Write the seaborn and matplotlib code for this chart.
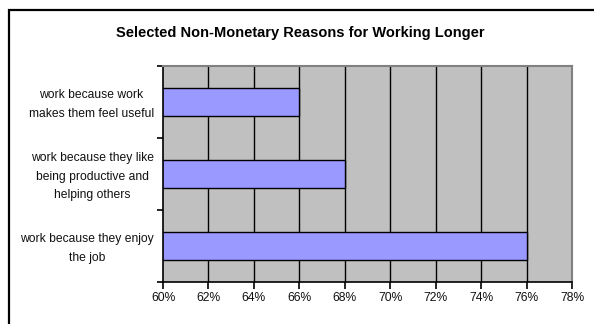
import matplotlib
matplotlib.use("Agg")
import matplotlib.pyplot as plt
import matplotlib.transforms as mtransforms
import seaborn as sns
import pandas as pd
from matplotlib.patches import Rectangle
from matplotlib.ticker import FixedLocator, FuncFormatter

categories = [
    "work because work\nmakes them feel useful",
    "work because they like\nbeing productive and\nhelping others",
    "work because they enjoy\nthe job",
]
values = [0.66, 0.68, 0.76]
xticks = [0.60, 0.62, 0.64, 0.66, 0.68, 0.70, 0.72, 0.74, 0.76, 0.78]

sns.set_style("white")
plt.rcParams["font.family"] = ["Liberation Sans", "DejaVu Sans"]

df = pd.DataFrame({"reason": categories, "share": values})

fig = plt.figure(figsize=(5.94, 3.24), dpi=100)
ax = fig.add_axes([163 / 594, 1 - 282 / 324, (572 - 163) / 594, (282 - 66) / 324])
ax.set_facecolor("#C0C0C0")

for x in xticks[1:-1]:
    ax.axvline(x, color="black", lw=1.0, zorder=1)

sns.barplot(data=df, x="share", y="reason", orient="h", color="#9999FF",
            saturation=1, width=0.4, edgecolor="black", linewidth=1.0,
            ax=ax, zorder=2)
for p in ax.patches:
    p.set_x(0.0)

ax.set_xlim(0.60, 0.78)
ax.set_ylim(2.5, -0.5)
ax.set_xticks(xticks)
ax.xaxis.set_major_formatter(FuncFormatter(lambda v, _: f"{round(v * 100)}%"))
ax.set_xlabel("")
ax.set_ylabel("")

ax.set_yticks([0, 1, 2])
ax.set_yticklabels(categories, multialignment="center", linespacing=1.75, va="center")
ax.tick_params(axis="y", which="major", length=0, pad=6.5, labelsize=8.7, labelcolor="#111111")
ax.yaxis.set_minor_locator(FixedLocator([-0.5, 0.5, 1.5, 2.5]))
ax.tick_params(axis="y", which="minor", length=4, width=1.2, direction="out", color="black", left=True)
ax.tick_params(axis="x", which="major", length=5, width=1.2, direction="out", color="black",
               bottom=True, pad=2, labelsize=8.7, labelcolor="#111111")

shift = mtransforms.ScaledTranslation(0, -2.5 / 100, fig.dpi_scale_trans)
for lbl in ax.get_yticklabels():
    lbl.set_transform(lbl.get_transform() + shift)

for side in ["top", "right"]:
    ax.spines[side].set_color("#808080")
    ax.spines[side].set_linewidth(1.5)
for side in ["left", "bottom"]:
    ax.spines[side].set_color("black")
    ax.spines[side].set_linewidth(1.2)
    ax.spines[side].set_visible(True)

fig.text(300 / 594, 1 - 33 / 324, "Selected Non-Monetary Reasons for Working Longer",
         ha="center", va="center", fontsize=10.5, fontweight="bold", color="black")

frame = Rectangle((8.5 / 594, -0.05), 1.0, 1 - 10 / 324 + 0.05, transform=fig.transFigure,
                  fill=False, edgecolor="black", lw=1.6, clip_on=False)
fig.patches.append(frame)

fig.savefig("out.png", dpi=100)
